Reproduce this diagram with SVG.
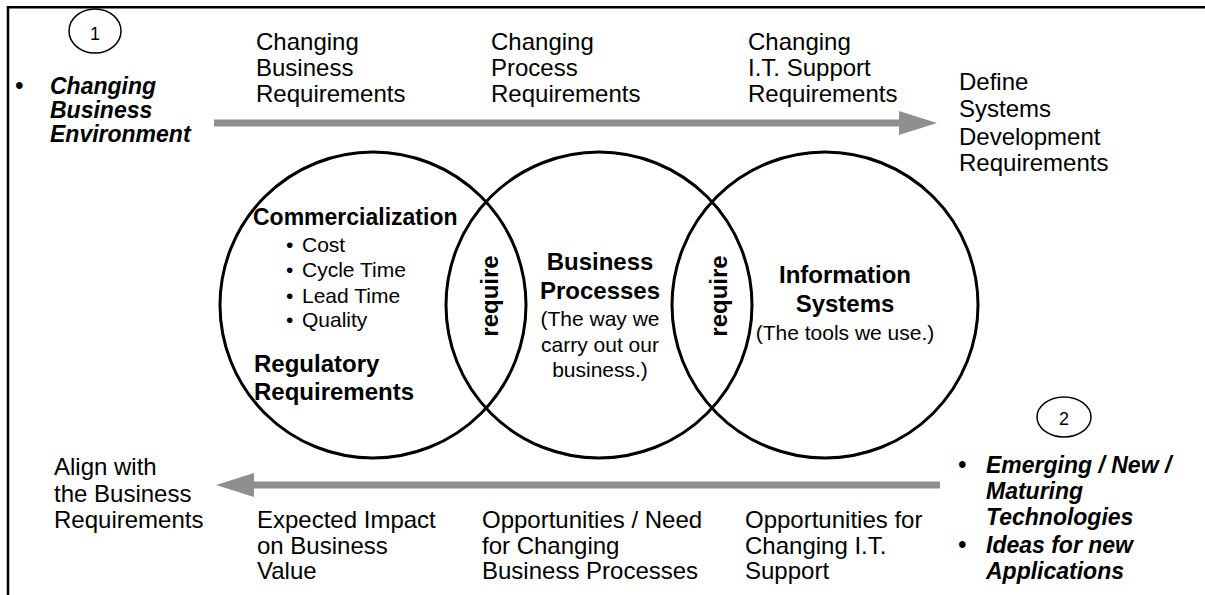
<svg xmlns="http://www.w3.org/2000/svg" width="1205" height="595" viewBox="0 0 1205 595">
<style>
  text { font-family: "Liberation Sans", Arial, sans-serif; fill: #000; }
  .lbl { font-size: 24px; }
  .b { font-weight: bold; }
  .bi { font-weight: bold; font-style: italic; font-size: 23px; }
  .sm { font-size: 21px; }
  .ven { fill: none; stroke: #000; stroke-width: 3; }
  .num { fill: none; stroke: #000; stroke-width: 1.5; }
  .arrow { fill: none; stroke: #8f8f8f; stroke-width: 7; }
  .frame { fill: none; stroke: #000; stroke-width: 2.5; }
</style>
<defs>
  <marker id="head" markerUnits="userSpaceOnUse" markerWidth="40" markerHeight="26" refX="6" refY="12" orient="auto">
    <path d="M0,0 L38,12 L0,24 z" fill="#8f8f8f"/>
  </marker>
</defs>
<rect width="1205" height="595" fill="#fff"/>
<path class="frame" d="M8,595 V7.3 H1205"/>

<g id="connectors">
  <line class="arrow" x1="214" y1="123" x2="905" y2="123" marker-end="url(#head)"/>
  <line class="arrow" x1="940" y1="485" x2="248" y2="485" marker-end="url(#head)"/>
</g>

<g id="marker1">
  <ellipse class="num" cx="95" cy="31" rx="26" ry="22"/>
  <text x="95" y="40" font-size="18" text-anchor="middle">1</text>
</g>
<g id="driver1">
  <text class="bi" x="15" y="94">•</text>
  <text class="bi" x="50" y="94">Changing</text>
  <text class="bi" x="50" y="118">Business</text>
  <text class="bi" x="50" y="142">Environment</text>
</g>

<g id="top-labels">
  <text class="lbl" x="256" y="50">Changing</text>
  <text class="lbl" x="256" y="76">Business</text>
  <text class="lbl" x="256" y="102">Requirements</text>
  <text class="lbl" x="491" y="50">Changing</text>
  <text class="lbl" x="491" y="76">Process</text>
  <text class="lbl" x="491" y="102">Requirements</text>
  <text class="lbl" x="748" y="50">Changing</text>
  <text class="lbl" x="748" y="76">I.T. Support</text>
  <text class="lbl" x="748" y="102">Requirements</text>
</g>

<g id="define">
  <text class="lbl" x="959" y="90">Define</text>
  <text class="lbl" x="959" y="117">Systems</text>
  <text class="lbl" x="959" y="145">Development</text>
  <text class="lbl" x="959" y="171">Requirements</text>
</g>

<g id="circle-commercial">
  <circle class="ven" cx="373" cy="305" r="153"/>
  <text class="b" x="253" y="225" font-size="23">Commercialization</text>
  <text class="sm" x="286" y="252">•</text>
  <text class="sm" x="302" y="252">Cost</text>
  <text class="sm" x="286" y="277">•</text>
  <text class="sm" x="302" y="277">Cycle Time</text>
  <text class="sm" x="286" y="303">•</text>
  <text class="sm" x="302" y="303">Lead Time</text>
  <text class="sm" x="286" y="327">•</text>
  <text class="sm" x="302" y="327">Quality</text>
  <text class="b" x="254" y="372" font-size="24">Regulatory</text>
  <text class="b" x="254" y="400" font-size="24">Requirements</text>
</g>

<g id="circle-process">
  <circle class="ven" cx="599" cy="305" r="153"/>
  <text class="b lbl" x="600" y="270" text-anchor="middle">Business</text>
  <text class="b lbl" x="600" y="299" text-anchor="middle">Processes</text>
  <text class="sm" x="600" y="326" text-anchor="middle">(The way we</text>
  <text class="sm" x="600" y="352" text-anchor="middle">carry out our</text>
  <text class="sm" x="600" y="377" text-anchor="middle">business.)</text>
</g>

<g id="circle-systems">
  <circle class="ven" cx="825" cy="305" r="153"/>
  <text class="b lbl" x="845" y="283" text-anchor="middle">Information</text>
  <text class="b lbl" x="845" y="312" text-anchor="middle">Systems</text>
  <text class="sm" x="845" y="340" text-anchor="middle">(The tools we use.)</text>
</g>

<g id="require-1">
  <text class="b lbl" text-anchor="middle" transform="translate(498,296) rotate(-90)">require</text>
</g>
<g id="require-2">
  <text class="b lbl" text-anchor="middle" transform="translate(727,296) rotate(-90)">require</text>
</g>

<g id="marker2">
  <ellipse class="num" cx="1064" cy="417" rx="27" ry="20"/>
  <text x="1064" y="425" font-size="18" text-anchor="middle">2</text>
</g>
<g id="driver2">
  <text class="bi" x="958" y="473">•</text>
  <text class="bi" x="986" y="473">Emerging / New /</text>
  <text class="bi" x="986" y="499">Maturing</text>
  <text class="bi" x="986" y="525">Technologies</text>
  <text class="bi" x="958" y="553">•</text>
  <text class="bi" x="986" y="553">Ideas for new</text>
  <text class="bi" x="986" y="579">Applications</text>
</g>

<g id="align">
  <text class="lbl" x="54" y="475">Align with</text>
  <text class="lbl" x="54" y="502">the Business</text>
  <text class="lbl" x="54" y="528">Requirements</text>
</g>

<g id="bottom-labels">
  <text class="lbl" x="257" y="528">Expected Impact</text>
  <text class="lbl" x="257" y="554">on Business</text>
  <text class="lbl" x="257" y="579">Value</text>
  <text class="lbl" x="482" y="528">Opportunities / Need</text>
  <text class="lbl" x="482" y="554">for Changing</text>
  <text class="lbl" x="482" y="579">Business Processes</text>
  <text class="lbl" x="745" y="528">Opportunities for</text>
  <text class="lbl" x="745" y="554">Changing I.T.</text>
  <text class="lbl" x="745" y="579">Support</text>
</g>
</svg>
